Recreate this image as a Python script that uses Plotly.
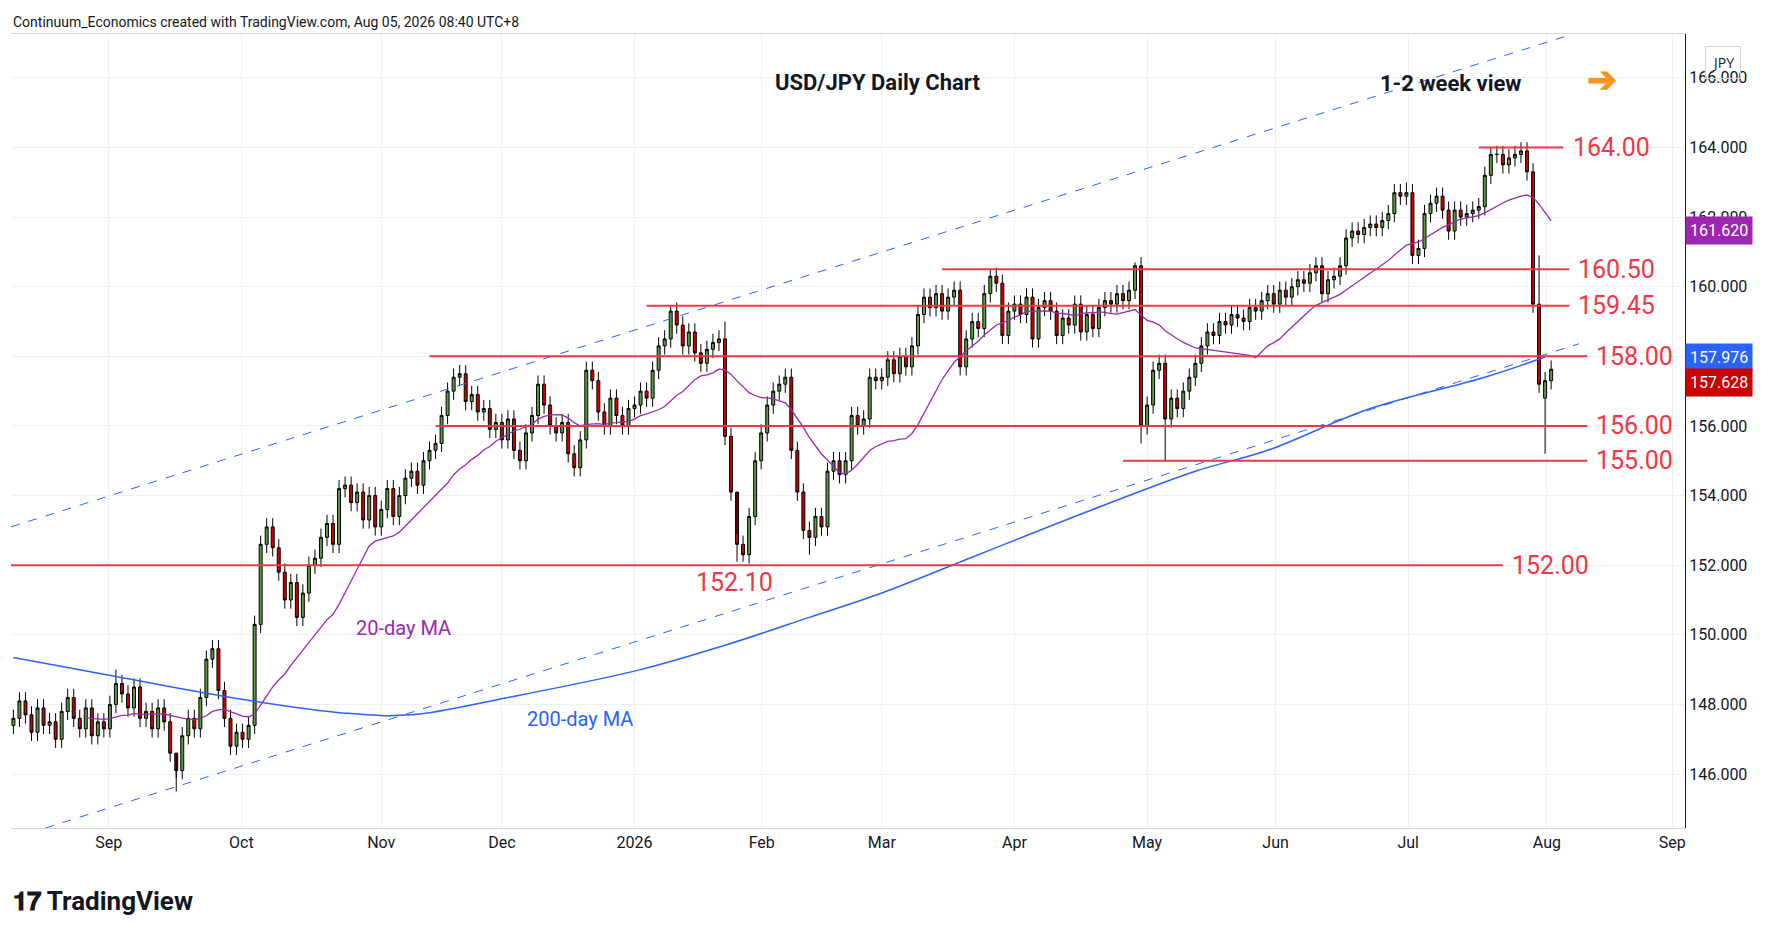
import pandas as pd
import plotly.graph_objects as go

closes = [
 147.6,148.1,147.7,147.2,147.9,147.4,147.5,147.0,147.8,148.2,147.6,147.3,147.9,147.1,147.5,147.3,
 148.0,148.6,148.3,147.9,148.5,147.6,147.8,147.3,147.9,147.5,146.6,146.1,147.1,147.6,147.3,148.2,149.3,149.6,148.4,147.6,146.8,147.2,
 147.0,147.4,150.3,152.6,153.1,152.5,151.8,151.0,151.5,150.5,151.2,152.0,152.2,152.8,153.2,152.6,154.2,154.3,153.8,154.1,153.3,154.0,153.1,
 153.6,154.2,153.4,154.0,154.5,154.7,154.3,155.0,155.3,155.5,156.3,157.0,157.4,157.5,156.7,156.9,156.4,156.5,155.9,156.1,
 155.6,156.2,155.3,155.0,155.8,156.3,157.2,156.6,156.0,155.8,156.1,155.2,154.8,155.6,157.6,157.3,156.4,156.0,156.8,156.3,156.0,156.5,
 156.6,157.0,156.8,157.6,158.3,158.5,159.3,158.9,158.3,158.7,158.1,157.8,158.2,158.4,158.5,155.7,154.1,152.6,152.3,153.4,155.0,
 155.8,156.6,157.0,157.2,157.4,155.3,154.1,153.0,152.8,153.4,153.1,154.7,155.0,154.6,155.0,156.3,156.0,156.2,157.4,157.3,
 157.4,157.9,157.5,158.0,157.7,158.3,159.2,159.7,159.4,159.8,159.3,159.7,159.9,157.7,158.5,159.0,158.8,159.8,160.3,160.1,158.6,159.3,
 159.5,159.2,159.7,158.5,159.4,159.6,159.3,158.6,159.1,158.9,159.5,158.7,159.2,158.8,159.4,159.6,159.5,159.8,159.6,159.9,160.6,156.0,
 156.6,157.6,157.8,156.2,156.8,156.5,157.0,157.4,157.8,158.3,158.7,158.6,159.0,158.9,159.2,159.1,159.0,159.4,159.3,159.6,159.8,
 159.5,159.9,159.7,160.0,160.2,160.1,160.4,160.6,159.8,160.2,160.3,160.6,161.4,161.6,161.5,161.7,161.8,161.7,161.9,162.1,162.7,162.6,
 162.7,160.9,161.1,162.1,162.4,162.6,162.2,161.6,162.2,162.0,162.1,162.2,162.3,163.2,163.8,163.8,163.5,163.7,163.8,163.9,163.3,159.5,157.2,
 157.3,157.63]
high_over = {17:149.0, 27:145.9, 109:159.45, 118:159.0, 120:152.9, 162:160.5, 186:160.7, 245:164.0, 253:160.9, 231:163.0}
low_over = {27:145.5, 120:152.1, 121:152.1, 132:152.3, 187:155.5, 191:155.0, 254:155.2}
open_over = {254:156.8}
ma200_x = [0, 17, 36, 55, 66, 82, 104, 118, 132, 144, 160, 179, 196, 208, 225, 244, 254]
ma200_y = [149.35,148.8,148.2,147.75,147.7,148.2,149.0,149.7,150.5,151.2,152.3,153.6,154.7,155.3,156.5,157.4,157.98]

levels = [(164.00, 243, 257, "164.00", 1373), (160.50, 154, 258, "160.50", 1378), (159.45, 105, 258, "159.45", 1378),
          (158.00, 69, 261, "158.00", 1393), (156.00, 70, 261, "156.00", 1393), (155.00, 184, 261, "155.00", 1393),
          (152.00, -2, 247, "152.00", 1320)]
month_labels = ["Sep","Oct","Nov","Dec","2026","Feb","Mar","Apr","May","Jun","Jul","Aug","Sep"]
month_bar = [15.8, 37.8, 61.0, 81.0, 103.0, 124.1, 144.0, 166.0, 188.0, 209.3, 231.3, 254.3, 275.1]

opens, highs, lows = [], [], []
for i, c in enumerate(closes):
    o = open_over.get(i, closes[i-1] if i else c - 0.2)
    opens.append(o)
    highs.append(high_over.get(i, max(o, c) + 0.25))
    lows.append(low_over.get(i, min(o, c) - 0.25))
idx = list(range(len(closes)))
ma20 = pd.Series(closes).rolling(20, min_periods=1).mean()
ma20[:12] = None

def xi(xo): return (xo - 12) / 5.27
def yp(yo): return 164 - (yo - 129) / 30.33

fig = go.Figure()
fig.add_trace(go.Scatter(x=[-0.4, 258.6], y=[153.1, 167.26], mode="lines", line=dict(color="#2962ff", width=1, dash="dash"), hoverinfo="skip"))
fig.add_trace(go.Scatter(x=[5.3, 259.6], y=[144.45, 158.36], mode="lines", line=dict(color="#2962ff", width=1, dash="dash"), hoverinfo="skip"))
fig.add_trace(go.Scatter(x=ma200_x, y=ma200_y, mode="lines", line=dict(color="#2962ff", width=1.5, shape="spline"), hoverinfo="skip"))
fig.add_trace(go.Scatter(x=idx, y=ma20, mode="lines", line=dict(color="#9c27b0", width=1.3), hoverinfo="skip"))
for v, a, b, t, lx in levels:
    fig.add_trace(go.Scatter(x=[a, b], y=[v, v], mode="lines", line=dict(color="#f23645", width=2), hoverinfo="skip"))
    fig.add_annotation(x=xi(lx), y=v, text=t, showarrow=False, xanchor="left", font=dict(size=25, color="#f23645", family="Roboto"))
fig.add_trace(go.Candlestick(x=idx, open=opens, high=highs, low=lows, close=closes,
    increasing=dict(line=dict(color="#000000", width=1), fillcolor="#5b9a45"),
    decreasing=dict(line=dict(color="#000000", width=1), fillcolor="#cc0000"), whiskerwidth=0))

anns = [
    (642, 508, "152.10", 25, "#f23645"), (767, 72, "<b>USD/JPY Daily Chart</b>", 22, "#131722"),
    (1268, 73, "<b>1-2 week view</b>", 22, "#131722"), (353, 548, "20-day MA", 20, "#9c27b0"),
    (507, 627, "200-day MA", 20, "#2962ff"), (1400, 70, "<b>➔</b>", 36, "#f7941d"),
]
for xo, yo, t, s, col in anns:
    fig.add_annotation(x=xi(xo), y=yp(yo), text=t, showarrow=False, font=dict(size=s, color=col, family="Roboto"))

for v, t, bg in [(161.62, "161.620", "#9c27b0"), (157.976, "157.976", "#2962ff"), (157.628, "157.628", "#cc0000")]:
    yy = v if v != 157.628 else 157.25
    fig.add_annotation(xref="paper", x=1.0, y=yy, text=t, showarrow=False, xanchor="left", bgcolor=bg,
                       font=dict(size=16, color="white", family="Roboto"), borderpad=4)
fig.add_annotation(xref="paper", yref="paper", x=1.012, y=0.985, text="JPY", showarrow=False, xanchor="left",
                   font=dict(size=14, color="#131722"), bordercolor="#d1d4dc", borderwidth=1, borderpad=6)
fig.add_annotation(xref="paper", yref="paper", x=0.0, y=1.0, yshift=22, text="Continuum_Economics created with TradingView.com, Aug 05, 2026 08:40 UTC+8",
                   showarrow=False, xanchor="left", font=dict(size=14, color="#131722", family="Roboto"))
fig.add_annotation(xref="paper", yref="paper", x=0.0, y=0.0, yshift=-90, text="<b>𝟏𝟕 TradingView</b>",
                   showarrow=False, xanchor="left", font=dict(size=26, color="#131722", family="Roboto"))

fig.update_layout(width=1789, height=941, paper_bgcolor="white", plot_bgcolor="white", showlegend=False,
    margin=dict(l=3, r=112, t=26, b=121),
    xaxis=dict(range=[-0.4, 277.2], tickvals=month_bar, ticktext=month_labels, rangeslider=dict(visible=False),
               showgrid=True, gridcolor="#edf0f4", zeroline=False, showline=True, linecolor="#d1d4dc", mirror=True,
               tickfont=dict(size=16, color="#131722", family="Roboto"), ticks=""),
    yaxis=dict(range=[144.45, 167.26], side="right", dtick=2, tick0=146, tickformat=".3f", showgrid=True,
               gridcolor="#edf0f4", zeroline=False, showline=True, linecolor="#131722",
               tickfont=dict(size=16, color="#131722", family="Roboto"), ticks=""))
fig.write_html("out.html")
